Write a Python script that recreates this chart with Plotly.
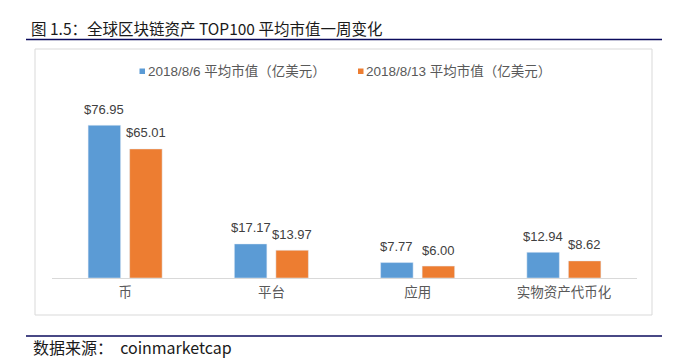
import plotly.graph_objects as go

categories = ["币", "平台", "应用", "实物资产代币化"]
series_names = ["2018/8/6 平均市值（亿美元）", "2018/8/13 平均市值（亿美元）"]
values_0806 = [76.95, 17.17, 7.77, 12.94]
values_0813 = [65.01, 13.97, 6.00, 8.62]
colors = ["#5B9BD5", "#ED7D31"]

title_text = "图 1.5：全球区块链资产 TOP100 平均市值一周变化"
source_text = "数据来源：  coinmarketcap"

W, H = 680, 358
L, R, T, B = 44, 629, 80, 270  # plot area in pixels


def px(x):
    return (x - L) / (R - L)


def py(y):
    return (B - y) / (B - T)


FONT = "Liberation Sans, Arial, Noto Sans CJK SC, sans-serif"
CJK = "Noto Sans CJK SC, sans-serif"

bargap = 0.432
bargroupgap = 0.217
cat_w = (R - L) / len(categories)
slot = cat_w * (1 - bargap) / 2
offsets = [-slot / 2, slot / 2]

fig = go.Figure()
annotations = []
for name, vals, col, off in zip(series_names, [values_0806, values_0813], colors, offsets):
    fig.add_trace(go.Bar(
        x=categories, y=vals, name=name, marker_color=col,
        cliponaxis=False, showlegend=False, hoverinfo="x+y",
    ))
    for c, v in zip(categories, vals):
        annotations.append(dict(
            x=c, y=v, xref="x", yref="y", text=f"${v:.2f}", showarrow=False,
            xshift=off, yshift=16, xanchor="center", yanchor="middle",
            font=dict(size=13, color="#404040", family=FONT)))

shapes = [
    dict(type="rect", xref="paper", yref="paper", x0=px(27), x1=px(644), y0=py(307), y1=py(41),
         line=dict(color="#D9D9D9", width=1), layer="below"),
    dict(type="line", xref="paper", yref="paper", x0=px(18), x1=px(654), y0=py(31.5), y1=py(31.5),
         line=dict(color="#0B0B5C", width=1.5)),
    dict(type="line", xref="paper", yref="paper", x0=px(18), x1=px(654), y0=py(328), y1=py(328),
         line=dict(color="#0B0B5C", width=1.5)),
]

annotations += [
    dict(text=title_text, xref="paper", yref="paper", x=px(21), y=py(20), xanchor="left", yanchor="middle",
         showarrow=False, font=dict(size=15.5, color="#1A1A1A", family=CJK)),
    dict(text=source_text, xref="paper", yref="paper", x=px(23), y=py(339), xanchor="left", yanchor="middle",
         showarrow=False, font=dict(size=16, color="#1A1A1A", family=CJK)),
]

legend_x = [131.5, 350]
for name, col, lx in zip(series_names, colors, legend_x):
    shapes.append(dict(type="rect", xref="paper", yref="paper", x0=px(lx), x1=px(lx + 5.5),
                       y0=py(66), y1=py(60.5), fillcolor=col, line=dict(width=0)))
    annotations.append(dict(
        text=name, xref="paper", yref="paper", x=px(lx + 6), y=py(63), xanchor="left", yanchor="middle",
        showarrow=False, font=dict(size=13.5, color="#595959", family=FONT)))

fig.update_layout(
    width=W, height=H,
    margin=dict(l=L, r=W - R, t=T, b=H - B, pad=0),
    paper_bgcolor="white", plot_bgcolor="white",
    barmode="group", bargap=bargap, bargroupgap=bargroupgap,
    font=dict(family=FONT, size=13, color="#595959"),
    xaxis=dict(showline=True, linecolor="#D9D9D9", linewidth=1, ticks="", showgrid=False,
               ticklabelstandoff=2,
               tickfont=dict(size=13.5, color="#595959", family=FONT)),
    yaxis=dict(range=[0, 95.7], visible=False, showgrid=False, zeroline=False),
    shapes=shapes, annotations=annotations,
    showlegend=False,
)

fig.write_html("out.html")
